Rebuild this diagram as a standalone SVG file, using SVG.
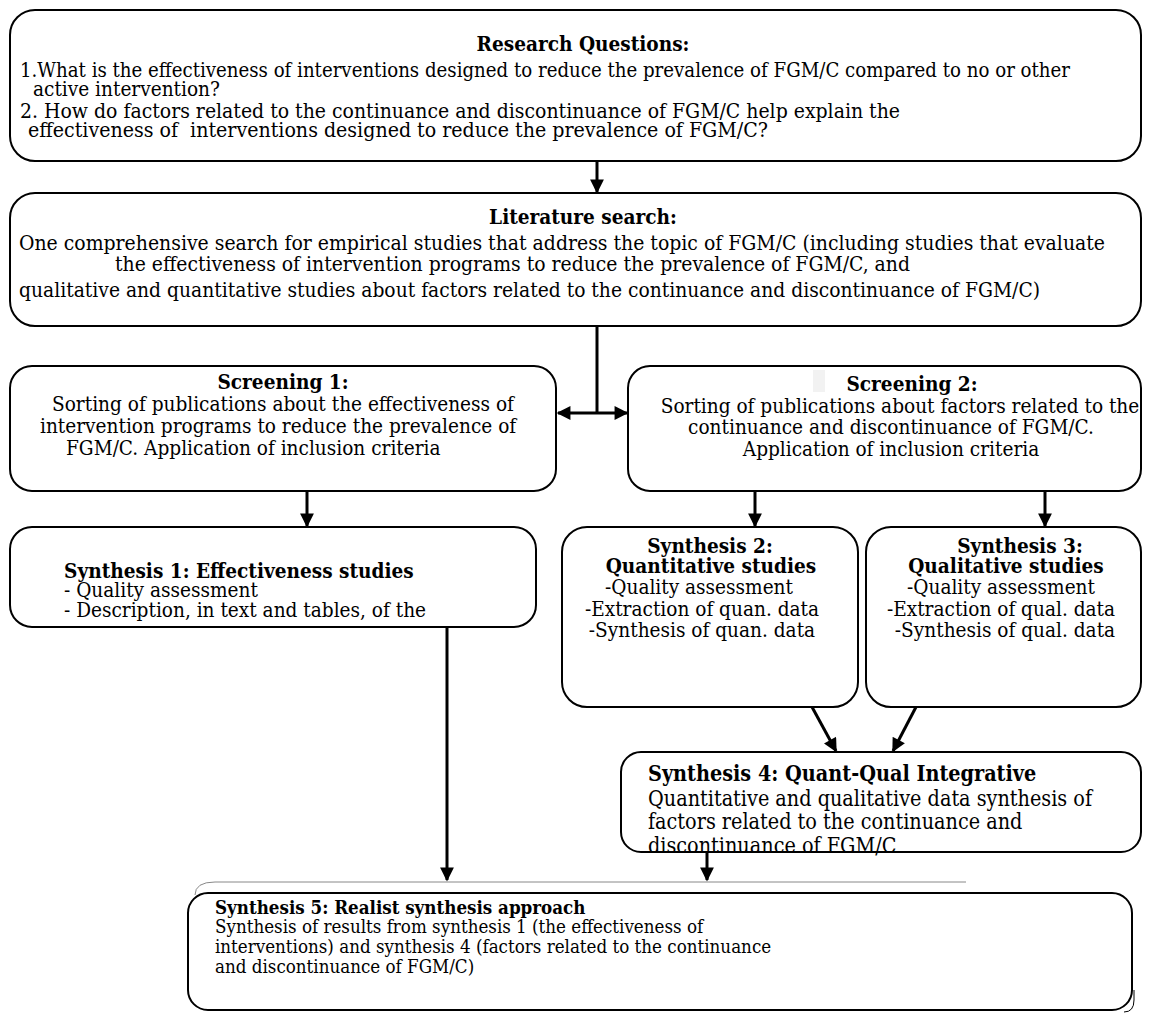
<svg xmlns="http://www.w3.org/2000/svg" width="1152" height="1013" viewBox="0 0 1152 1013">
<style>
.box{fill:#fff;stroke:#000;stroke-width:2}
text{font-family:"DejaVu Serif Condensed","DejaVu Serif","Liberation Serif",serif;font-size:20.6px;fill:#000}
.s{font-size:18.6px}
.l{font-size:21.4px}
.b{font-weight:bold}
.m{text-anchor:middle}
.ln{stroke:#000;stroke-width:3;fill:none}
</style>
<defs>
<marker id="ah" viewBox="0 0 10 10" refX="9" refY="5" markerWidth="5" markerHeight="4.6" orient="auto" markerUnits="strokeWidth">
<path d="M0,0 L10,5 L0,10 z" fill="#000"/>
</marker>
</defs>
<rect width="1152" height="1013" fill="#fff"/>

<g id="connectors">
<line class="ln" x1="597" y1="161" x2="597" y2="192" marker-end="url(#ah)"/>
<line class="ln" x1="597" y1="326" x2="597" y2="413"/>
<line class="ln" x1="597" y1="413" x2="558" y2="413" marker-end="url(#ah)"/>
<line class="ln" x1="597" y1="413" x2="627" y2="413" marker-end="url(#ah)"/>
<line class="ln" x1="307" y1="491" x2="307" y2="526" marker-end="url(#ah)"/>
<line class="ln" x1="755" y1="491" x2="755" y2="526" marker-end="url(#ah)"/>
<line class="ln" x1="1045" y1="491" x2="1045" y2="526" marker-end="url(#ah)"/>
<line class="ln" x1="812" y1="707" x2="836" y2="751" marker-end="url(#ah)"/>
<line class="ln" x1="916" y1="707" x2="893" y2="751" marker-end="url(#ah)"/>
<line class="ln" x1="447" y1="627" x2="447" y2="880" marker-end="url(#ah)"/>
<line class="ln" x1="707" y1="852" x2="707" y2="880" marker-end="url(#ah)"/>
</g>

<g id="research-questions">
<rect class="box" x="10" y="10" width="1131" height="151" rx="25"/>
<text class="b m" x="583" y="51">Research Questions:</text>
<text x="20" y="77" textLength="1050" lengthAdjust="spacingAndGlyphs">1.What is the effectiveness of interventions designed to reduce the prevalence of FGM/C compared to no or other</text>
<text x="33" y="96">active intervention?</text>
<text x="20" y="118" textLength="880" lengthAdjust="spacingAndGlyphs">2. How do factors related to the continuance and discontinuance of FGM/C help explain the</text>
<text x="28" y="137" xml:space="preserve" textLength="740" lengthAdjust="spacingAndGlyphs">effectiveness of  interventions designed to reduce the prevalence of FGM/C?</text>
</g>

<g id="literature-search">
<rect class="box" x="10" y="193" width="1131" height="133" rx="25"/>
<text class="b m" x="583" y="224">Literature search:</text>
<text x="19" y="250" textLength="1086" lengthAdjust="spacingAndGlyphs">One comprehensive search for empirical studies that address the topic of FGM/C (including studies that evaluate</text>
<text x="115" y="271" textLength="795" lengthAdjust="spacingAndGlyphs">the effectiveness of intervention programs to reduce the prevalence of FGM/C, and</text>
<text x="19" y="297" textLength="1021" lengthAdjust="spacingAndGlyphs">qualitative and quantitative studies about factors related to the continuance and discontinuance of FGM/C)</text>
</g>

<g id="screening-1">
<rect class="box" x="10" y="366" width="546" height="125" rx="22"/>
<text class="b m" x="283" y="389">Screening 1:</text>
<text x="52" y="411">Sorting of publications about the effectiveness of</text>
<text x="40" y="433">intervention programs to reduce the prevalence of</text>
<text x="66" y="455">FGM/C. Application of inclusion criteria</text>
</g>

<g id="screening-2">
<rect class="box" x="628" y="366" width="513" height="125" rx="22"/>
<rect x="813" y="370" width="12" height="22" fill="#f2f2f2"/>
<text class="b m" x="912" y="391">Screening 2:</text>
<text class="m" x="900" y="413">Sorting of publications about factors related to the</text>
<text class="m" x="891" y="434">continuance and discontinuance of FGM/C.</text>
<text class="m" x="891" y="456">Application of inclusion criteria</text>
</g>

<g id="synthesis-1">
<rect class="box" x="10" y="527" width="526" height="100" rx="22"/>
<text class="b" x="64" y="578">Synthesis 1: Effectiveness studies</text>
<text x="64" y="597">- Quality assessment</text>
<text x="64" y="617">- Description, in text and tables, of the</text>
</g>

<g id="synthesis-2">
<rect class="box" x="562" y="527" width="296" height="180" rx="25"/>
<text class="b m" x="710" y="553">Synthesis 2:</text>
<text class="b m" x="711" y="573">Quantitative studies</text>
<text class="m" x="699" y="594">-Quality assessment</text>
<text class="m" x="702" y="616">-Extraction of quan. data</text>
<text class="m" x="702" y="637">-Synthesis of quan. data</text>
</g>

<g id="synthesis-3">
<rect class="box" x="866" y="527" width="275" height="180" rx="25"/>
<text class="b m" x="1020" y="553">Synthesis 3:</text>
<text class="b m" x="1006" y="573">Qualitative studies</text>
<text class="m" x="1001" y="594">-Quality assessment</text>
<text class="m" x="1001" y="616">-Extraction of qual. data</text>
<text class="m" x="1005" y="637">-Synthesis of qual. data</text>
</g>

<g id="synthesis-4">
<rect class="box" x="621" y="752" width="520" height="100" rx="20"/>
<text class="b l" x="648" y="781">Synthesis 4: Quant-Qual Integrative</text>
<text class="l" x="648" y="806">Quantitative and qualitative data synthesis of</text>
<text class="l" x="648" y="829">factors related to the continuance and</text>
<text class="l" x="648" y="853">discontinuance of FGM/C</text>
</g>

<g id="synthesis-5">
<path d="M195,895 Q195,882 215,882 L966,882" fill="none" stroke="#888" stroke-width="1"/>
<rect class="box" x="188" y="893" width="944" height="117" rx="20"/>
<path d="M1134,990 L1134,1000 Q1134,1012 1124,1012" fill="none" stroke="#000" stroke-width="1"/>
<text class="b s" x="215" y="914">Synthesis 5: Realist synthesis approach</text>
<text class="s" x="215" y="933">Synthesis of results from synthesis 1 (the effectiveness of</text>
<text class="s" x="215" y="953">interventions) and synthesis 4 (factors related to the continuance</text>
<text class="s" x="215" y="973">and discontinuance of FGM/C)</text>
</g>
</svg>
